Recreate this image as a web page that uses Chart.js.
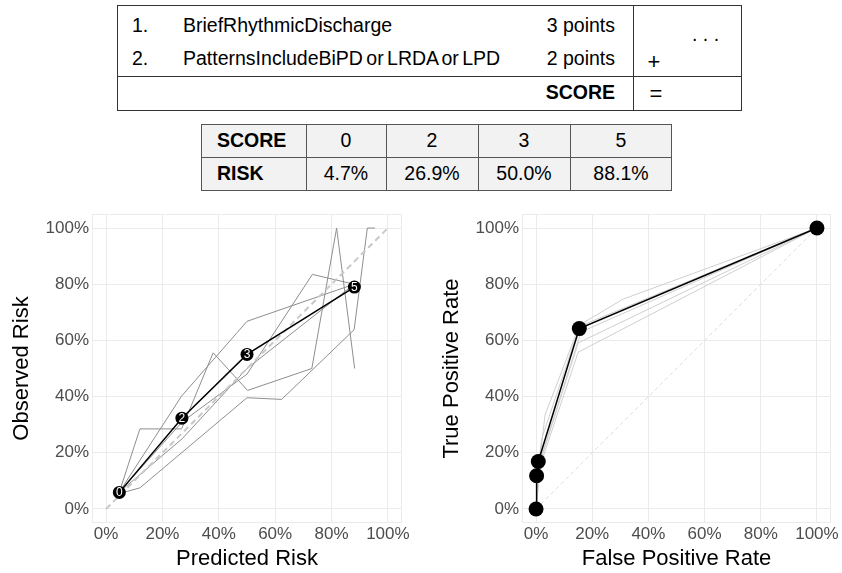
<!DOCTYPE html>
<html>
<head>
<meta charset="utf-8">
<script src="https://cdn.jsdelivr.net/npm/chart.js@4.4.1/dist/chart.umd.min.js"></script>
<style>
  body { margin: 0; background: #fff; font-family: "Liberation Sans", Arial, sans-serif; }
  #page { position: relative; width: 842px; height: 573px; overflow: hidden; }
  .box { position: absolute; box-sizing: border-box; }
  .t { position: absolute; line-height: 24px; height: 24px; font-size: 19.5px; color: #000; white-space: nowrap; }
  .b { font-weight: bold; }
  .c { text-align: center; }
  .r { text-align: right; }
  canvas { position: absolute; }
</style>
</head>
<body>
<div id="page">
  <!-- scoring table -->
  <div class="box" style="left:117px;top:5px;width:625px;height:106px;border:1px solid #333;"></div>
  <div class="box" style="left:117px;top:76px;width:625px;height:1px;background:#333;"></div>
  <div class="box" style="left:633px;top:5px;width:1px;height:106px;background:#333;"></div>
  <div class="t" style="left:132px;top:13px;">1.</div>
  <div class="t" style="left:183px;top:13px;">BriefRhythmicDischarge</div>
  <div class="t r" style="left:515px;width:100px;top:13px;">3 points</div>
  <div class="t" style="left:132px;top:46px;">2.</div>
  <div class="t" style="left:183px;top:46px;word-spacing:-2px;">PatternsIncludeBiPD or LRDA or LPD</div>
  <div class="t r" style="left:515px;width:100px;top:46px;">2 points</div>
  <div class="t" style="left:692px;top:22px;">. . .</div>
  <div class="t c" style="left:640px;width:28px;top:50px;font-size:22px;font-weight:300;">+</div>
  <div class="t r b" style="left:515px;width:100px;top:80px;">SCORE</div>
  <div class="t c" style="left:642px;width:28px;top:82px;font-size:22px;">=</div>

  <!-- risk table -->
  <div class="box" style="left:201px;top:124px;width:471px;height:67px;border:1px solid #555;background:#f2f2f2;"></div>
  <div class="box" style="left:201px;top:157px;width:471px;height:1px;background:#555;"></div>
  <div id="riskCols"></div>

  <canvas id="calChart" width="421" height="373" style="left:0;top:200px;"></canvas>
  <canvas id="rocChart" width="421" height="373" style="left:421px;top:200px;"></canvas>
</div>

<script>
// ---- data ----
const scores = [0, 2, 3, 5];
const riskLabels = ['4.7%', '26.9%', '50.0%', '88.1%'];

// calibration (percent)
const predictedRisk = [4.7, 26.9, 50.0, 88.1];
const observedRisk = [5.9, 32.3, 55.0, 79.0];

// per-fold calibration curves [predicted, observed]
const calFold1 = [[4.7, 6], [12, 28.5], [26.8, 28.5], [38, 55.6], [50.2, 42.2], [73, 50], [81.8, 100], [88.2, 50]];
const calFold2 = [[4.7, 5.5], [12, 7.5], [50, 39.6], [62.3, 39], [88, 63.8], [92.7, 100], [95.4, 100]];
const calFold3 = [[4.7, 6], [26.8, 40.2], [50, 66.8], [88, 80]];
const calFold4 = [[4.7, 6], [27, 31], [50, 48], [73.2, 83.5], [88, 80]];
const calFold5 = [[4.7, 6], [27, 25], [50, 50], [88, 80]];

// ROC (percent)
const fpr = [0, 0.2, 0.8, 15.4, 100];
const tpr = [0, 11.8, 16.9, 64.2, 100];
const rocFold1 = [[0, 0], [0.5, 10], [3.2, 33.5], [15.5, 65.5], [31, 74.7], [100, 100]];
const rocFold2 = [[0, 0], [1, 12], [2, 17], [15, 55.8], [100, 100]];
const rocFold3 = [[0, 0], [1, 10], [2.5, 20], [15, 59.1], [100, 100]];
const rocFold4 = [[0, 0], [1, 14], [2, 19], [16, 63], [100, 100]];
const rocFold5 = [[0, 0], [0.5, 12], [2, 25], [15.5, 65], [100, 100]];

const pctTicks = [0, 20, 40, 60, 80, 100];

// ---- risk table cells ----
const colEdges = [201, 306, 386, 478, 570, 672];
const riskCols = document.getElementById('riskCols');
let html = '<div class="t b" style="left:217px;top:128px;">SCORE</div>' +
           '<div class="t b" style="left:217px;top:161px;">RISK</div>';
for (let i = 0; i < scores.length; i++) {
  const l = colEdges[i + 1], w = colEdges[i + 2] - l;
  html += `<div class="box" style="left:${l}px;top:124px;width:1px;height:67px;background:#555;"></div>`;
  html += `<div class="t c" style="left:${l}px;width:${w}px;top:128px;">${scores[i]}</div>`;
  html += `<div class="t c" style="left:${l}px;width:${w}px;top:161px;">${riskLabels[i]}</div>`;
}
riskCols.innerHTML = html;

// ---- charts ----
const toXY = arr => arr.map(p => ({ x: p[0], y: p[1] }));
const zip = (xs, ys) => xs.map((x, i) => ({ x, y: ys[i] }));

const panelBorder = {
  id: 'panelBorder',
  beforeDatasetsDraw(chart) {
    const { ctx, chartArea: a } = chart;
    ctx.save();
    ctx.strokeStyle = '#ebebeb';
    ctx.lineWidth = 1;
    ctx.strokeRect(Math.round(a.left) + 0.5, Math.round(a.top) + 0.5, Math.round(a.right - a.left) - 1, Math.round(a.bottom - a.top) - 1);
    ctx.restore();
  }
};

const pointLabels = {
  id: 'pointLabels',
  afterDatasetsDraw(chart) {
    const ctx = chart.ctx;
    chart.data.datasets.forEach((ds, i) => {
      if (!ds.pointText) return;
      const meta = chart.getDatasetMeta(i);
      ctx.save();
      ctx.fillStyle = '#fff';
      ctx.font = '12px "Liberation Sans", Arial, sans-serif';
      ctx.textAlign = 'center';
      ctx.textBaseline = 'middle';
      meta.data.forEach((el, j) => ctx.fillText(ds.pointText[j], el.x, el.y + 0.5));
      ctx.restore();
    });
  }
};

function axis(title, isY, yWidth, titlePad) {
  return {
    type: 'linear',
    min: -5,
    max: 105,
    afterBuildTicks: s => { s.ticks = pctTicks.map(v => ({ value: v })); },
    afterFit: s => { if (isY) s.width = yWidth; else s.height = 50; },
    grid: { color: '#ebebeb', lineWidth: 1, drawTicks: false },
    border: { display: false },
    ticks: {
      padding: isY ? 3 : 1,
      color: '#4d4d4d',
      font: { family: 'Liberation Sans', size: 17 },
      callback: v => v + '%'
    },
    title: {
      display: true,
      text: title,
      color: '#000',
      font: { family: 'Liberation Sans', size: 22 },
      padding: isY ? { top: titlePad, bottom: 0 } : { top: 0, bottom: 1 }
    }
  };
}

function foldSet(arr, color) {
  return { data: toXY(arr), showLine: true, borderColor: color, borderWidth: 1, pointRadius: 0, order: 2 };
}

const baseOptions = (yTitle, xTitle, yWidth, titlePad, padRight) => ({
  responsive: false,
  animation: false,
  layout: { padding: { top: 14, right: padRight, left: 0, bottom: 0 } },
  plugins: { legend: { display: false }, tooltip: { enabled: false } },
  scales: {
    x: axis(xTitle, false),
    y: axis(yTitle, true, yWidth, titlePad)
  }
});

new Chart(document.getElementById('calChart'), {
  type: 'scatter',
  data: {
    datasets: [
      {
        data: zip(predictedRisk, observedRisk),
        pointText: scores.map(String),
        showLine: true,
        borderColor: '#000',
        borderWidth: 1.5,
        pointRadius: 6.5,
        pointBackgroundColor: '#000',
        pointBorderWidth: 0,
        order: 0
      },
      {
        data: [{ x: 0, y: 0 }, { x: 100, y: 100 }],
        showLine: true,
        borderColor: '#c8c8c8',
        borderWidth: 2,
        borderDash: [6, 4],
        pointRadius: 0,
        order: 1
      },
      foldSet(calFold1, '#8e8e8e'),
      foldSet(calFold2, '#8e8e8e'),
      foldSet(calFold3, '#8e8e8e'),
      foldSet(calFold4, '#8e8e8e'),
      foldSet(calFold5, '#8e8e8e')
    ]
  },
  options: baseOptions('Observed Risk', 'Predicted Risk', 92, 8.8, 19),
  plugins: [panelBorder, pointLabels]
});

new Chart(document.getElementById('rocChart'), {
  type: 'scatter',
  data: {
    datasets: [
      {
        data: zip(fpr, tpr),
        showLine: true,
        borderColor: '#000',
        borderWidth: 1.5,
        pointRadius: 7.5,
        pointBackgroundColor: '#000',
        pointBorderWidth: 0,
        order: 0
      },
      {
        data: [{ x: 0, y: 0 }, { x: 100, y: 100 }],
        showLine: true,
        borderColor: '#dddddd',
        borderWidth: 1,
        borderDash: [4, 3],
        pointRadius: 0,
        order: 3
      },
      foldSet(rocFold1, '#cfcfcf'),
      foldSet(rocFold2, '#cfcfcf'),
      foldSet(rocFold3, '#cfcfcf'),
      foldSet(rocFold4, '#cfcfcf'),
      foldSet(rocFold5, '#cfcfcf')
    ]
  },
  options: baseOptions('True Positive Rate', 'False Positive Rate', 101, 17.5, 11),
  plugins: [panelBorder]
});
</script>
</body>
</html>
